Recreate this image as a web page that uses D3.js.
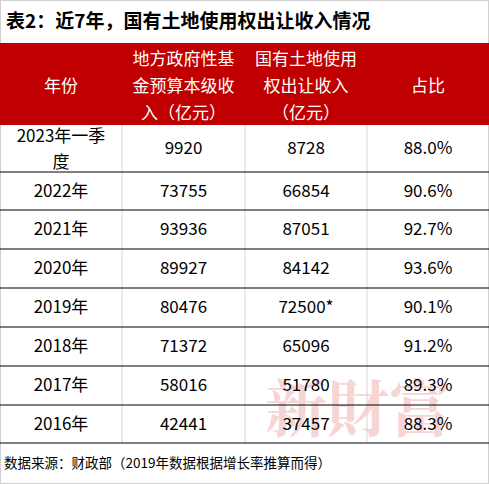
<!DOCTYPE html>
<html><head><meta charset="utf-8">
<script src="https://cdn.jsdelivr.net/npm/d3@7"></script>
<style>body{margin:0;background:#fff}svg{display:block}</style>
</head><body>
<script>
const title = "表2：近7年，国有土地使用权出让收入情况";
const headers = [["年份"],["地方政府性基","金预算本级收","入（亿元）"],["国有土地使用","权出让收入","（亿元）"],["占比"]];
const years = ["2023年一季度","2022年","2021年","2020年","2019年","2018年","2017年","2016年"];
const fundIncome = [9920,73755,93936,89927,80476,71372,58016,42441];
const landIncome = ["8728","66854","87051","84142","72500*","65096","51780","37457"];
const share = ["88.0%","90.6%","92.7%","93.6%","90.1%","91.2%","89.3%","88.3%"];
const note = "数据来源：财政部（2019年数据根据增长率推算而得）";

const W=489,H=484, font="'Noto Sans CJK SC','DejaVu Sans',sans-serif";
const svg=d3.select("body").append("svg").attr("width",W).attr("height",H);
svg.append("rect").attr("x",0.5).attr("y",0.5).attr("width",W-1).attr("height",H-1).attr("fill","#fff").attr("stroke","#d0d0d0");
svg.append("text").attr("x",6).attr("y",28).attr("font-family",font).attr("font-weight","bold").attr("font-size",19).attr("fill","#000").text(title);
const colEdges=[0,122,245,367,489];
const x=i=>(colEdges[i]+colEdges[i+1])/2;
const hdrTop=43,hdrBot=125;
svg.append("rect").attr("x",0).attr("y",hdrTop).attr("width",W).attr("height",hdrBot-hdrTop).attr("fill","#c00000");
headers.forEach((h,i)=>{
  const lh=27, c=(hdrTop+hdrBot)/2+2, y0=c-(h.length-1)*lh/2;
  h.forEach((t,j)=>svg.append("text").attr("x",x(i)).attr("y",y0+j*lh).attr("dy","0.35em").attr("text-anchor","middle")
    .attr("font-family",font).attr("font-size",17).attr("fill","#fff").text(t));
});
const rowEdges=[125,172,210,249,288,327,366,405,443];
const y=d3.scaleOrdinal().domain(years).range(years.map((d,i)=>(rowEdges[i]+rowEdges[i+1])/2));
// watermark
svg.append("text").attr("x",358).attr("y",432).attr("text-anchor","middle").attr("font-family","'Noto Serif CJK SC','Noto Sans CJK SC',serif")
  .attr("font-size",62).attr("font-weight","bold").attr("fill","#f4c4c4").attr("opacity",0.7).text("新財富");
// grid
[1,2,3].forEach(i=>svg.append("line").attr("x1",colEdges[i]).attr("x2",colEdges[i]).attr("y1",hdrBot).attr("y2",rowEdges[8]).attr("stroke","#d6d6d6"));
rowEdges.slice(1).forEach(e=>svg.append("line").attr("x1",0).attr("x2",W).attr("y1",e).attr("y2",e).attr("stroke","#000").attr("stroke-width",1.2));
years.forEach((yr,r)=>{
  const cells=[yr,String(fundIncome[r]),landIncome[r],share[r]];
  cells.forEach((t,i)=>{
    if(i===0&&t.length>6){
      [t.slice(0,7),t.slice(7)].forEach((s,j)=>svg.append("text").attr("x",x(0)).attr("y",y(yr)-12+j*26).attr("dy","0.35em").attr("text-anchor","middle").attr("font-family",font).attr("font-size",17).text(s));
    } else svg.append("text").attr("x",x(i)).attr("y",y(yr)).attr("dy","0.35em").attr("text-anchor","middle").attr("font-family",font).attr("font-size",17).attr("fill","#000").text(t);
  });
});
svg.append("text").attr("x",4).attr("y",463).attr("dy","0.35em").attr("font-family",font).attr("font-size",13.5).text(note);
</script>
</body></html>
